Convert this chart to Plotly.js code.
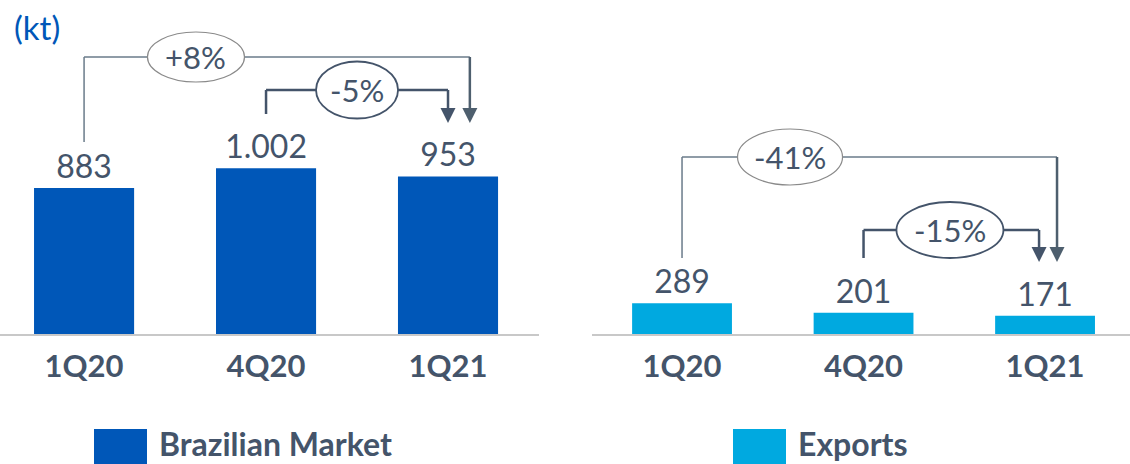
<!DOCTYPE html>
<html>
<head>
<meta charset="utf-8">
<script src="https://cdn.plot.ly/plotly-3.0.1.min.js"></script>
<style>
  html, body { margin: 0; padding: 0; background: #fff; }
  #chart { width: 1130px; height: 464px; }
</style>
</head>
<body>
<div id="chart"></div>
<script>
// data
const quarters = ['1Q20', '4Q20', '1Q21'];
const brazilianMarket = [883, 1002, 953];
const exportsKt = [289, 201, 171];

const textColor = '#44546A';
const font = 'Lato, "Open Sans", sans-serif';
const plotH = 334; // plot area height in px (top margin 0)

// px from top of the figure -> paper y
function py(p) { return (plotH - p) / plotH; }

function pct(a, b) {
    const v = Math.round((b / a - 1) * 100);
    return (v > 0 ? '+' : '') + v + '%';
}

const brTrace = {
    x: quarters,
    y: brazilianMarket,
    type: 'bar',
    xaxis: 'x',
    yaxis: 'y',
    name: 'Brazilian Market',
    marker: { color: '#0057B8' },
    width: 0.55,
    texttemplate: '%{y:,.0f}',
    textposition: 'outside',
    constraintext: 'none',
    cliponaxis: false,
    textfont: { family: font, size: 32, color: textColor },
    hoverinfo: 'skip'
};

const exTrace = {
    x: quarters,
    y: exportsKt,
    type: 'bar',
    xaxis: 'x2',
    yaxis: 'y2',
    name: 'Exports',
    marker: { color: '#00A9E0' },
    width: 0.55,
    texttemplate: '%{y:,.0f}',
    textposition: 'outside',
    constraintext: 'none',
    cliponaxis: false,
    textfont: { family: font, size: 32, color: textColor },
    hoverinfo: 'skip'
};

// comparison brackets (style / placement only, values come from the arrays)
const brackets = [
    { ax: 'x', vals: brazilianMarket, from: 0, to: 2, top: 57, start: 142, endDx: 0.12, tip: 123, labelAt: 0.615, w: 97, h: 50, thin: true },
    { ax: 'x', vals: brazilianMarket, from: 1, to: 2, top: 90, start: 114, endDx: 0, tip: 123, labelAt: 1.5, w: 82, h: 57, thin: false },
    { ax: 'x2', vals: exportsKt, from: 0, to: 2, top: 157, start: 258, endDx: 0.066, tip: 262, labelAt: 0.595, w: 105, h: 56, thin: true },
    { ax: 'x2', vals: exportsKt, from: 1, to: 2, top: 230, start: 258, endDx: -0.033, tip: 262, labelAt: 1.476, w: 107, h: 56, thin: false }
];

const shapes = [];
const annotations = [];

brackets.forEach(b => {
    const lc = b.thin ? '#6A7B8A' : textColor;
    const lw = b.thin ? 1.5 : 2.5;
    const xEnd = b.to + b.endDx;
    const line = { color: lc, width: lw };
    shapes.push({ type: 'line', xref: b.ax, yref: 'paper', x0: b.from, x1: b.from, y0: py(b.start), y1: py(b.top), line: line });
    shapes.push({ type: 'line', xref: b.ax, yref: 'paper', x0: b.from, x1: xEnd, y0: py(b.top), y1: py(b.top), line: line });
    shapes.push({ type: 'line', xref: b.ax, yref: 'paper', x0: xEnd, x1: xEnd, y0: py(b.top), y1: py(b.tip - 14), line: { color: b.thin ? '#4E5F6E' : textColor, width: 2.5 } });
    shapes.push({
        type: 'path', xref: b.ax, yref: 'paper',
        xsizemode: 'pixel', ysizemode: 'pixel',
        xanchor: xEnd, yanchor: py(b.tip),
        path: 'M-7.5,15L7.5,15L0,0Z',
        fillcolor: b.thin ? '#4E5F6E' : textColor,
        line: { width: 0 }
    });
    shapes.push({
        type: 'circle', xref: b.ax, yref: 'paper',
        xsizemode: 'pixel', ysizemode: 'pixel',
        xanchor: b.labelAt, yanchor: py(b.top),
        x0: -b.w / 2, x1: b.w / 2, y0: -b.h / 2, y1: b.h / 2,
        fillcolor: '#fff',
        line: { color: b.thin ? '#8A8A8A' : textColor, width: b.thin ? 1.2 : 1.8 }
    });
    annotations.push({
        xref: b.ax, yref: 'paper', x: b.labelAt, y: py(b.top),
        xanchor: 'center', yanchor: 'middle',
        text: pct(b.vals[b.from], b.vals[b.to]),
        showarrow: false,
        font: { family: font, size: 31, color: textColor }
    });
});

// unit label
annotations.push({
    xref: 'paper', yref: 'paper', x: 12 / 1130, y: py(27), xanchor: 'left', yanchor: 'middle',
    text: '(kt)', showarrow: false,
    font: { family: font, size: 33, color: '#0057B8' }
});

// legend
const legendItems = [
    { name: brTrace.name, color: brTrace.marker.color, x0: 94, x1: 147 },
    { name: exTrace.name, color: exTrace.marker.color, x0: 733, x1: 786 }
];
legendItems.forEach(it => {
    shapes.push({
        type: 'rect', xref: 'paper', yref: 'paper',
        x0: it.x0 / 1130, x1: it.x1 / 1130, y0: py(464), y1: py(429),
        fillcolor: it.color, line: { width: 0 }
    });
    annotations.push({
        xref: 'paper', yref: 'paper', x: (it.x1 + 10) / 1130, y: py(443), xanchor: 'left', yanchor: 'middle',
        text: it.name, showarrow: false,
        font: { family: font, size: 32, color: textColor, weight: 'bold' }
    });
});

const xCommon = {
    type: 'category',
    showgrid: false,
    zeroline: false,
    showline: true,
    linecolor: '#C8C8C8',
    linewidth: 2,
    ticks: '',
    ticklabelstandoff: 4,
    tickfont: { family: font, size: 31, color: textColor, weight: 'bold' },
    fixedrange: true
};
const yCommon = {
    visible: false,
    showgrid: false,
    zeroline: false,
    fixedrange: true
};

const layout = {
    width: 1130,
    height: 464,
    margin: { l: 0, r: 0, t: 0, b: 130 },
    paper_bgcolor: '#fff',
    plot_bgcolor: '#fff',
    showlegend: false,
    separators: ',.',
    font: { family: font, color: textColor },
    xaxis: Object.assign({}, xCommon, { domain: [0, 539 / 1130], range: [-0.462, 2.5], anchor: 'y' }),
    xaxis2: Object.assign({}, xCommon, { domain: [592 / 1130, 1], range: [-0.496, 2.468], anchor: 'y2' }),
    yaxis: Object.assign({}, yCommon, { range: [0, 2020], anchor: 'x' }),
    yaxis2: Object.assign({}, yCommon, { range: [0, 3150], anchor: 'x2' }),
    shapes: shapes,
    annotations: annotations
};

Plotly.newPlot('chart', [brTrace, exTrace], layout, { displayModeBar: false, staticPlot: true });
</script>
</body>
</html>
